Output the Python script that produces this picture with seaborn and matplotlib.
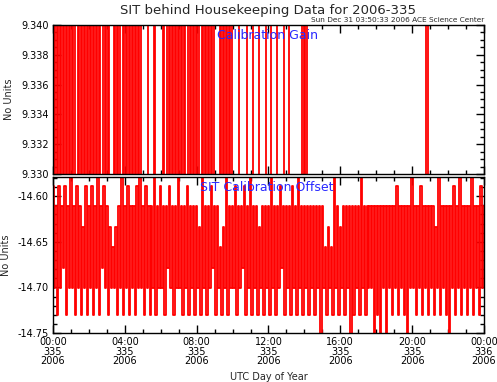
import numpy as np
import pandas as pd
import matplotlib
matplotlib.use('Agg')
import matplotlib.pyplot as plt
from matplotlib.ticker import MultipleLocator, FormatStrFormatter
import seaborn as sns

# Sample times: one reading every 5 minutes through day 335 (hours).
sample_hours = np.arange(289) / 12.0

# Calibration gain (values sit just outside 9.330-9.340).
gain_values = [
    9.341, 9.329, 9.341, 9.329, 9.341, 9.329, 9.341, 9.329, 9.341, 9.329, 9.341, 9.329,
    9.341, 9.329, 9.341, 9.329, 9.329, 9.341, 9.329, 9.341, 9.329, 9.341, 9.329, 9.341,
    9.329, 9.341, 9.329, 9.341, 9.329, 9.341, 9.329, 9.341, 9.329, 9.329, 9.341, 9.329,
    9.341, 9.329, 9.341, 9.341, 9.341, 9.329, 9.341, 9.329, 9.341, 9.329, 9.329, 9.341,
    9.329, 9.341, 9.329, 9.341, 9.329, 9.341, 9.329, 9.341, 9.329, 9.341, 9.329, 9.341,
    9.341, 9.341, 9.341, 9.341, 9.329, 9.329, 9.329, 9.329, 9.341, 9.329, 9.329, 9.329,
    9.329, 9.329, 9.341, 9.329, 9.329, 9.341, 9.329, 9.341, 9.329, 9.341, 9.329, 9.341,
    9.329, 9.341, 9.329, 9.341, 9.329, 9.341, 9.341, 9.329, 9.341, 9.329, 9.341, 9.329,
    9.341, 9.329, 9.341, 9.341, 9.329, 9.341, 9.329, 9.341, 9.329, 9.341, 9.329, 9.341,
    9.329, 9.329, 9.329, 9.329, 9.341, 9.329, 9.341, 9.329, 9.341, 9.329, 9.341, 9.329,
    9.341, 9.341, 9.341, 9.341, 9.341, 9.329, 9.329, 9.329, 9.329, 9.329, 9.341, 9.341,
    9.341, 9.341, 9.329, 9.329, 9.329, 9.329, 9.341, 9.341, 9.341, 9.341, 9.341, 9.329,
    9.329, 9.329, 9.341, 9.341, 9.341, 9.341, 9.329, 9.329, 9.329, 9.329, 9.329, 9.341,
    9.341, 9.341, 9.329, 9.329, 9.329, 9.329, 9.329, 9.329, 9.329, 9.329, 9.329, 9.341,
    9.329, 9.341, 9.329, 9.329, 9.329, 9.329, 9.329, 9.329, 9.329, 9.329, 9.329, 9.329,
    9.329, 9.329, 9.329, 9.329, 9.329, 9.329, 9.329, 9.329, 9.329, 9.329, 9.329, 9.329,
    9.329, 9.329, 9.329, 9.329, 9.329, 9.329, 9.329, 9.329, 9.329, 9.329, 9.329, 9.329,
    9.329, 9.329, 9.329, 9.329, 9.329, 9.329, 9.329, 9.329, 9.329, 9.329, 9.329, 9.329,
    9.329, 9.329, 9.329, 9.329, 9.329, 9.329, 9.329, 9.329, 9.329, 9.329, 9.329, 9.329,
    9.329, 9.329, 9.329, 9.329, 9.329, 9.329, 9.329, 9.329, 9.329, 9.329, 9.329, 9.329,
    9.329, 9.329, 9.329, 9.329, 9.329, 9.329, 9.329, 9.329, 9.329, 9.329, 9.341, 9.329,
    9.329, 9.329, 9.329, 9.329, 9.329, 9.329, 9.329, 9.329, 9.329, 9.329, 9.329, 9.329,
    9.329, 9.329, 9.329, 9.329, 9.329, 9.329, 9.329, 9.329, 9.329, 9.329, 9.329, 9.329,
    9.329, 9.329, 9.329, 9.329, 9.329, 9.329, 9.329, 9.329, 9.329, 9.329, 9.329, 9.329,
    9.329,
]

# SIT calibration offset.
offset_values = [
    -14.589, -14.701, -14.611, -14.730, -14.589, -14.701, -14.611, -14.679, -14.589, -14.730, -14.611, -14.701,
    -14.560, -14.701, -14.611, -14.730, -14.589, -14.701, -14.611, -14.730, -14.634, -14.701, -14.589, -14.730,
    -14.611, -14.701, -14.589, -14.730, -14.611, -14.701, -14.560, -14.730, -14.611, -14.679, -14.589, -14.701,
    -14.611, -14.730, -14.634, -14.701, -14.656, -14.701, -14.634, -14.730, -14.611, -14.701, -14.560, -14.730,
    -14.611, -14.701, -14.589, -14.730, -14.611, -14.701, -14.611, -14.730, -14.589, -14.701, -14.560, -14.701,
    -14.611, -14.730, -14.589, -14.701, -14.611, -14.730, -14.611, -14.701, -14.560, -14.730, -14.611, -14.701,
    -14.589, -14.701, -14.611, -14.730, -14.611, -14.679, -14.589, -14.701, -14.611, -14.730, -14.611, -14.701,
    -14.560, -14.701, -14.611, -14.730, -14.611, -14.701, -14.589, -14.730, -14.611, -14.701, -14.611, -14.730,
    -14.611, -14.701, -14.634, -14.730, -14.560, -14.701, -14.611, -14.730, -14.611, -14.701, -14.589, -14.679,
    -14.611, -14.730, -14.611, -14.701, -14.656, -14.730, -14.634, -14.701, -14.560, -14.730, -14.611, -14.701,
    -14.611, -14.701, -14.589, -14.730, -14.611, -14.701, -14.611, -14.679, -14.589, -14.730, -14.611, -14.701,
    -14.560, -14.730, -14.611, -14.701, -14.611, -14.730, -14.634, -14.701, -14.611, -14.730, -14.611, -14.701,
    -14.611, -14.730, -14.560, -14.701, -14.611, -14.730, -14.611, -14.701, -14.589, -14.679, -14.611, -14.730,
    -14.611, -14.701, -14.611, -14.730, -14.589, -14.701, -14.611, -14.730, -14.560, -14.701, -14.611, -14.730,
    -14.611, -14.701, -14.611, -14.730, -14.611, -14.701, -14.611, -14.730, -14.611, -14.701, -14.611, -14.775,
    -14.611, -14.701, -14.656, -14.730, -14.634, -14.701, -14.656, -14.730, -14.560, -14.701, -14.611, -14.730,
    -14.634, -14.701, -14.611, -14.730, -14.611, -14.701, -14.611, -14.775, -14.611, -14.730, -14.611, -14.701,
    -14.611, -14.730, -14.560, -14.701, -14.611, -14.730, -14.611, -14.701, -14.611, -14.701, -14.611, -14.775,
    -14.611, -14.730, -14.611, -14.775, -14.611, -14.701, -14.611, -14.775, -14.611, -14.701, -14.611, -14.730,
    -14.611, -14.701, -14.589, -14.730, -14.611, -14.701, -14.611, -14.730, -14.611, -14.775, -14.611, -14.701,
    -14.560, -14.701, -14.611, -14.730, -14.611, -14.701, -14.589, -14.730, -14.611, -14.701, -14.611, -14.730,
    -14.611, -14.701, -14.611, -14.730, -14.634, -14.701, -14.560, -14.730, -14.611, -14.701, -14.611, -14.730,
    -14.611, -14.775, -14.611, -14.701, -14.589, -14.730, -14.611, -14.701, -14.560, -14.730, -14.611, -14.701,
    -14.611, -14.730, -14.611, -14.701, -14.560, -14.730, -14.611, -14.701, -14.611, -14.730, -14.589, -14.701,
    -14.611,
]

x_tick_hours = [0, 4, 8, 12, 16, 20, 24]
x_tick_labels = [
    '00:00\n335\n2006', '04:00\n335\n2006', '08:00\n335\n2006', '12:00\n335\n2006',
    '16:00\n335\n2006', '20:00\n335\n2006', '00:00\n336\n2006',
]

title_text = 'SIT behind Housekeeping Data for 2006-335'
stamp_text = 'Sun Dec 31 03:50:33 2006 ACE Science Center'

df = pd.DataFrame({
    'hour': sample_hours,
    'gain': gain_values,
    'offset': offset_values,
})

sns.set_theme(style='ticks')
plt.rcParams['font.family'] = ['DejaVu Sans']
plt.rcParams['axes.linewidth'] = 1.0

fig = plt.figure(figsize=(4.97, 3.82), dpi=100)
ax_top = fig.add_axes([0.1066, 0.5445, 0.8672, 0.3901])
ax_bot = fig.add_axes([0.1066, 0.1283, 0.8672, 0.4083])

# Vertical steps give the dense block look of the original trace.
sns.lineplot(data=df, x='hour', y='gain', ax=ax_top, color='#ff0000',
             linewidth=1.3, estimator=None, legend=False, drawstyle='steps-mid')
sns.lineplot(data=df, x='hour', y='offset', ax=ax_bot, color='#ff0000',
             linewidth=1.3, estimator=None, legend=False, drawstyle='steps-mid')

# Top panel axis set-up.
ax_top.set_ylim(9.330, 9.340)
ax_top.yaxis.set_major_locator(MultipleLocator(0.002))
ax_top.yaxis.set_minor_locator(MultipleLocator(0.0005))
ax_top.yaxis.set_major_formatter(FormatStrFormatter('%.3f'))

# Bottom panel axis set-up.
ax_bot.set_ylim(-14.75, -14.579)
ax_bot.yaxis.set_major_locator(MultipleLocator(0.05))
ax_bot.yaxis.set_minor_locator(MultipleLocator(0.01))
ax_bot.yaxis.set_major_formatter(FormatStrFormatter('%.2f'))

for ax in (ax_top, ax_bot):
    ax.set_xlim(0, 24)
    ax.set_xticks(x_tick_hours)
    ax.xaxis.set_minor_locator(MultipleLocator(1))
    ax.tick_params(which='both', direction='in', top=True, right=True,
                   colors='black', labelsize=7, pad=3)
    ax.tick_params(which='major', length=6, width=1)
    ax.tick_params(which='minor', length=3, width=1)
    ax.set_ylabel('No Units', fontsize=7, labelpad=5)
    ax.set_xlabel('')
    for spine in ax.spines.values():
        spine.set_color('black')

ax_top.set_xticklabels([])
ax_bot.set_xticklabels(x_tick_labels, fontsize=7, linespacing=0.95)
ax_bot.set_xlabel('UTC Day of Year', fontsize=7, labelpad=4)

ax_top.text(0.38, 0.93, 'Calibration Gain', transform=ax_top.transAxes,
            color='#2828ff', fontsize=9, ha='left', va='center')
ax_bot.text(0.34, 0.93, 'SIT Calibration Offset', transform=ax_bot.transAxes,
            color='#2828ff', fontsize=9, ha='left', va='center')

fig.text(0.54, 0.972, title_text, ha='center', va='center', fontsize=9.5)
fig.text(0.974, 0.947, stamp_text, ha='right', va='center', fontsize=5.3)

fig.savefig('out.png', dpi=100)
plt.close('all')
